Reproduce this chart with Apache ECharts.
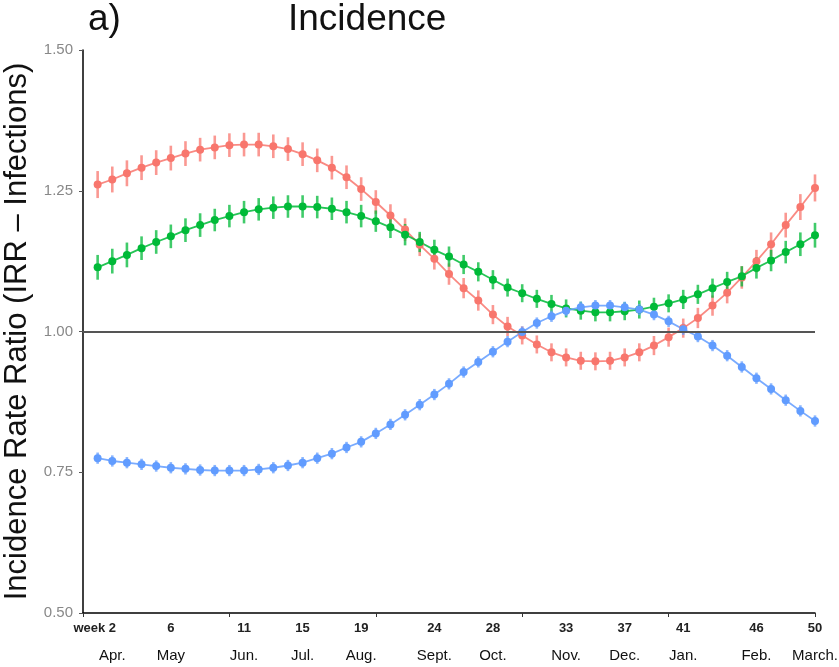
<!DOCTYPE html>
<html>
<head>
<meta charset="utf-8">
<script src="https://cdn.jsdelivr.net/npm/echarts@6/dist/echarts.min.js"></script>
<style>
html,body{margin:0;padding:0;background:#fff;}
#chart{width:839px;height:667px;}
</style>
</head>
<body>
<div id="chart"></div>
<script>
// ---- data ----
const weeks = [1,2,3,4,5,6,7,8,9,10,11,12,13,14,15,16,17,18,19,20,21,22,23,24,25,26,27,28,29,30,31,32,33,34,35,36,37,38,39,40,41,42,43,44,45,46,47,48,49,50];

const redIRR = [1.261,1.270,1.281,1.291,1.300,1.308,1.316,1.323,1.327,1.331,1.332,1.332,1.329,1.324,1.315,1.304,1.291,1.274,1.253,1.230,1.206,1.181,1.154,1.129,1.102,1.077,1.055,1.030,1.009,0.993,0.977,0.963,0.954,0.948,0.947,0.948,0.954,0.963,0.975,0.990,1.006,1.024,1.046,1.069,1.096,1.125,1.155,1.189,1.221,1.255];
const greenIRR = [1.114,1.125,1.136,1.148,1.159,1.169,1.180,1.189,1.198,1.205,1.212,1.217,1.220,1.222,1.222,1.221,1.218,1.212,1.205,1.196,1.185,1.172,1.159,1.145,1.133,1.119,1.106,1.092,1.078,1.068,1.058,1.049,1.041,1.037,1.034,1.034,1.036,1.039,1.044,1.050,1.057,1.066,1.077,1.088,1.098,1.113,1.126,1.141,1.155,1.171];
const blueIRR = [0.775,0.770,0.767,0.764,0.761,0.758,0.756,0.754,0.753,0.753,0.753,0.755,0.758,0.762,0.767,0.775,0.783,0.794,0.804,0.819,0.835,0.852,0.870,0.888,0.907,0.928,0.946,0.964,0.982,0.999,1.015,1.027,1.037,1.043,1.046,1.046,1.043,1.039,1.030,1.018,1.004,0.991,0.975,0.957,0.937,0.917,0.898,0.878,0.859,0.841];

// half-width of the confidence interval at each week
const redErr = [0.024,0.023,0.023,0.022,0.022,0.022,0.022,0.021,0.021,0.021,0.021,0.021,0.021,0.021,0.021,0.021,0.021,0.021,0.021,0.021,0.020,0.020,0.020,0.019,0.019,0.018,0.018,0.017,0.017,0.016,0.016,0.016,0.016,0.016,0.016,0.016,0.016,0.016,0.017,0.017,0.017,0.018,0.018,0.019,0.020,0.020,0.021,0.022,0.023,0.024];
const greenErr = [0.022,0.022,0.022,0.021,0.021,0.021,0.021,0.021,0.020,0.020,0.020,0.020,0.020,0.020,0.020,0.020,0.020,0.020,0.020,0.019,0.019,0.019,0.018,0.018,0.018,0.017,0.017,0.017,0.016,0.016,0.016,0.016,0.016,0.016,0.016,0.016,0.016,0.016,0.016,0.016,0.017,0.017,0.017,0.018,0.018,0.019,0.019,0.020,0.021,0.022];
const blueErr = [0.010,0.010,0.010,0.010,0.010,0.010,0.010,0.010,0.010,0.010,0.010,0.010,0.010,0.010,0.010,0.010,0.010,0.010,0.010,0.010,0.010,0.010,0.010,0.010,0.010,0.010,0.010,0.010,0.010,0.010,0.010,0.010,0.010,0.010,0.010,0.010,0.010,0.010,0.010,0.010,0.010,0.010,0.010,0.010,0.010,0.010,0.010,0.010,0.010,0.010];

const weekTicks = [2,6,11,15,19,24,28,33,37,41,46,50];
const monthLabels = ['Apr.','May','Jun.','Jul.','Aug.','Sept.','Oct.','Nov.','Dec.','Jan.','Feb.','March.'];
const yTicks = [0.50,0.75,1.00,1.25,1.50];
const referenceLevel = 1.0;

const titleLetter = 'a)';
const titleText = 'Incidence';
const yName = 'Incidence Rate Ratio (IRR \u2013 Infections)';

const colors = {red:'#F8766D', green:'#00BA38', blue:'#619CFF'};

// ---- build ----
function pts(vals){ return weeks.map((w,i)=>[w, vals[i]]); }
function bars(vals, err){ return weeks.map((w,i)=>[w, vals[i]-err[i], vals[i]+err[i]]); }

function errSeries(vals, err, color){
  return {
    type:'custom',
    data: bars(vals, err),
    encode:{x:0, y:[1,2]},
    z:3,
    silent:true,
    renderItem:function(params, api){
      const p1 = api.coord([api.value(0), api.value(1)]);
      const p2 = api.coord([api.value(0), api.value(2)]);
      return {type:'line', shape:{x1:p1[0], y1:p1[1], x2:p2[0], y2:p2[1]},
        style:{stroke:color, lineWidth:2.6, opacity:0.75}};
    }
  };
}
function lineSeries(vals, color, extra){
  return Object.assign({
    type:'line',
    data: pts(vals),
    symbol:'circle',
    symbolSize:8,
    z:4,
    silent:true,
    lineStyle:{color:color, width:1.8, opacity:0.85},
    itemStyle:{color:color}
  }, extra||{});
}

const font = '"Liberation Sans", Arial, Helvetica, sans-serif';

const option = {
  animation:false,
  backgroundColor:'#fff',
  textStyle:{fontFamily:font},
  title:[
    {text:titleLetter, left:83, top:-4, textStyle:{fontSize:37, fontWeight:'normal', color:'#111', fontFamily:font}},
    {text:titleText, left:283, top:-4, textStyle:{fontSize:37, fontWeight:'normal', color:'#111', fontFamily:font}}
  ],
  grid:{left:83, right:24, top:50, bottom:54, containLabel:false, outerBoundsMode:'none'},
  xAxis:{
    type:'value', min:0, max:50, interval:10,
    axisLine:{show:true, onZero:false, lineStyle:{color:'#000', width:1.5}},
    axisTick:{show:true, length:4, lineStyle:{color:'#333', width:1}},
    splitLine:{show:false},
    axisLabel:{
      customValues: weekTicks,
      margin:2,
      formatter:function(v){
        const i = weekTicks.indexOf(v);
        const m = monthLabels[i];
        if(i===0) return '{w|week }{n|'+v+'}{pad|}\n{m|'+m+'}';
        return '{n|'+v+'}\n{m|'+m+'}';
      },
      rich:{
        w:{fontSize:13, fontWeight:'bold', color:'#222', lineHeight:27, fontFamily:font},
        n:{fontSize:13, fontWeight:'bold', color:'#222', lineHeight:27, fontFamily:font},
        pad:{width:35, lineHeight:27},
        m:{fontSize:15, color:'#111', lineHeight:27, fontFamily:font}
      }
    }
  },
  yAxis:{
    type:'value', min:0.5, max:1.5, interval:0.25,
    name:yName, nameLocation:'middle', nameRotate:90, nameGap:47,
    nameTextStyle:{fontSize:31, color:'#111', fontFamily:font},
    axisLine:{show:true, lineStyle:{color:'#000', width:1.5}},
    axisTick:{show:true, length:4, lineStyle:{color:'#555'}},
    splitLine:{show:false},
    axisLabel:{
      customValues: yTicks,
      fontSize:15, color:'#888', margin:10,
      formatter:function(v){ return v.toFixed(2); }
    }
  },
  series:[
    {
      type:'line', data:[], silent:true,
      markLine:{
        silent:true, symbol:['none','none'],
        label:{show:false},
        lineStyle:{color:'#555', width:2, type:'solid'},
        data:[{yAxis:referenceLevel}]
      },
      z:2
    },
    lineSeries(redIRR, colors.red),
    errSeries(redIRR, redErr, colors.red),
    lineSeries(greenIRR, colors.green),
    errSeries(greenIRR, greenErr, colors.green),
    lineSeries(blueIRR, colors.blue),
    errSeries(blueIRR, blueErr, colors.blue)
  ]
};

const chart = echarts.init(document.getElementById('chart'), null, {renderer:'canvas'});
chart.setOption(option);
</script>
</body>
</html>
